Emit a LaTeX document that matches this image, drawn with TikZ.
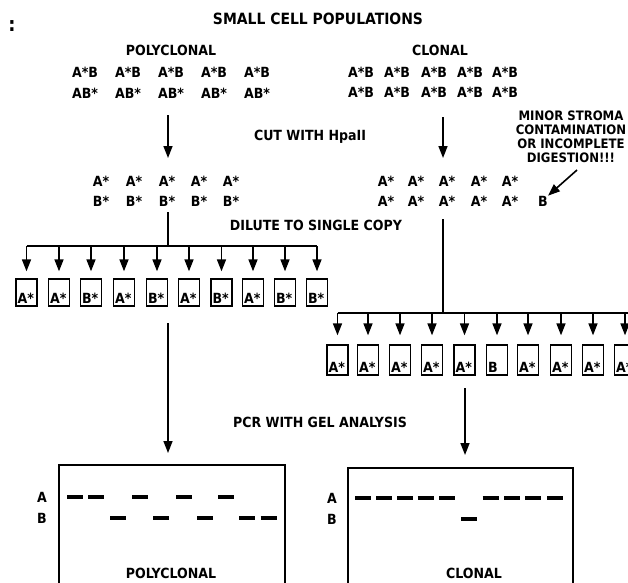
\documentclass[tikz,border=0pt]{standalone}
\usepackage{fontspec}
\setmainfont{DejaVu Sans Condensed}
\usetikzlibrary{arrows.meta}
\begin{document}
\begin{tikzpicture}[x=1pt,y=-1pt,
  every node/.style={inner sep=0pt, font=\bfseries\fontsize{14}{16}\selectfont},
  ttl/.style={font=\bfseries\fontsize{15.5}{17}\selectfont},
  small/.style={font=\bfseries\fontsize{13}{15}\selectfont, align=center},
  ln/.style={line width=1.6pt},
  arr/.style={line width=1.6pt, -{Triangle[width=9pt,length=12pt]}},
  tube/.style={draw, line width=1.3pt, minimum width=21pt, inner sep=0pt},
  boxtxt/.style={anchor=south west},
  gel/.style={line width=1.8pt},
  band/.style={line width=4pt}]
\useasboundingbox (0,0) rectangle (628,582);

% partial caption fragment
\node[anchor=base, font=\bfseries\fontsize{20}{22}\selectfont] (colon) at (12,31) {:};

% titles
\node[ttl] (title) at (318,19) {SMALL CELL POPULATIONS};
\node (poly) at (171,50) {POLYCLONAL};
\node (clon) at (440,50) {CLONAL};

% populations
\foreach \x [count=\i] in {85,128,171,214,257} {
  \node (pa\i) at (\x,72) {A*B};
  \node (pb\i) at (\x,93) {AB*};
}
\foreach \x [count=\i] in {361,397,434,470,505} {
  \node (ca\i) at (\x,72) {A*B};
  \node (cb\i) at (\x,92) {A*B};
}

% cut
\node (cut) at (310,137) {CUT WITH HpaII};
\coordinate (pcut1) at (168,115);
\coordinate (ccut1) at (443,117);
\coordinate (pcut2) at (168,158);
\coordinate (ccut2) at (443,158);
\draw[arr] (pcut1) -- (pcut2);
\draw[arr] (ccut1) -- (ccut2);

% digested
\foreach \x [count=\i] in {101,134,167,199,231} {
  \node (pd\i) at (\x,181) {A*};
  \node (pe\i) at (\x,201) {B*};
}
\foreach \x [count=\i] in {386,416,447,479,510} {
  \node (cd\i) at (\x,181) {A*};
  \node (ce\i) at (\x,201) {A*};
}
\node (ceB) at (543,201) {B};

% minor stroma note
\node[small] (note) at (571,137) {MINOR STROMA\\[-1pt]CONTAMINATION\\[-1pt]OR INCOMPLETE\\[-1pt]DIGESTION!!!};
\coordinate (nst) at (577,170);
\draw[arr] (nst) -- (ceB.north east);

% dilute
\node (dil) at (316,225) {DILUTE TO SINGLE COPY};

% polyclonal tubes
\foreach \x/\t [count=\i] in {26.5/A*,59/A*,91/B*,124/A*,157/B*,189/A*,221.5/B*,253/A*,285/B*,317/B*} {
  \node[tube, minimum height=27pt] (pt\i) at (\x,292.5) {};
  \node[boxtxt] (ptl\i) at ([shift={(2,-3)}]pt\i.south west) {\t};
}
\coordinate (ps) at (168,212);
\coordinate (pj) at (168,246);
\draw[ln] (ps) -- (pj);
\draw[ln] (pt1.north |- pj) -- (pt10.north |- pj);
\foreach \i in {1,...,10} \draw[arr, shorten >=7pt] (pt\i.north |- pj) -- (pt\i.north);

% clonal tubes
\foreach \x/\t [count=\i] in {337.5/A*,368/A*,400/A*,432/A*,464.5/A*,497/B,528/A*,561/A*,593/A*,625/A*} {
  \node[tube, minimum height=30pt] (ct\i) at (\x,360) {};
  \node[boxtxt] (ctl\i) at ([shift={(2,-3)}]ct\i.south west) {\t};
}
\coordinate (cs) at (443,219);
\coordinate (cj) at (443,313);
\coordinate (cr) at (640,313);
\draw[ln] (cs) -- (cj);
\draw[ln] (ct1.north |- cj) -- (cr);
\foreach \i in {1,...,10} \draw[arr, shorten >=9pt] (ct\i.north |- cj) -- (ct\i.north);

% PCR
\node (pcr) at (320,422) {PCR WITH GEL ANALYSIS};
\coordinate (pdn) at (168,323);
\coordinate (cdn) at (465,388);

% gels
\coordinate (pg1) at (59,600);
\coordinate (pg2) at (59,465);
\coordinate (pg3) at (285,465);
\coordinate (pg4) at (285,600);
\draw[gel] (pg1) -- (pg2) -- (pg3) -- (pg4);
\coordinate (pgtop) at (168,465);
\draw[arr, shorten >=12pt] (pdn) -- (pgtop);

\coordinate (cg1) at (348,600);
\coordinate (cg2) at (348,468);
\coordinate (cg3) at (573,468);
\coordinate (cg4) at (573,600);
\draw[gel] (cg1) -- (cg2) -- (cg3) -- (cg4);
\coordinate (cgtop) at (465,468);
\draw[arr, shorten >=13pt] (cdn) -- (cgtop);

\node (pA) at (42,497) {A};
\node (pB) at (42,518) {B};
\node (cA) at (332,498) {A};
\node (cB) at (332,519) {B};

\foreach \x in {75,96,140,184,226} \draw[band] (\x-8,497) -- (\x+8,497);
\foreach \x in {118,161,205,247,268.5} \draw[band] (\x-8,518) -- (\x+8,518);
\foreach \x in {363,384,405,425.5,447,490.5,512,533,555} \draw[band] (\x-8,498) -- (\x+8,498);
\draw[band] (461,519) -- (477,519);

\node (pbot) at (171,573) {POLYCLONAL};
\node (cbot) at (474,573) {CLONAL};
\end{tikzpicture}
\end{document}
